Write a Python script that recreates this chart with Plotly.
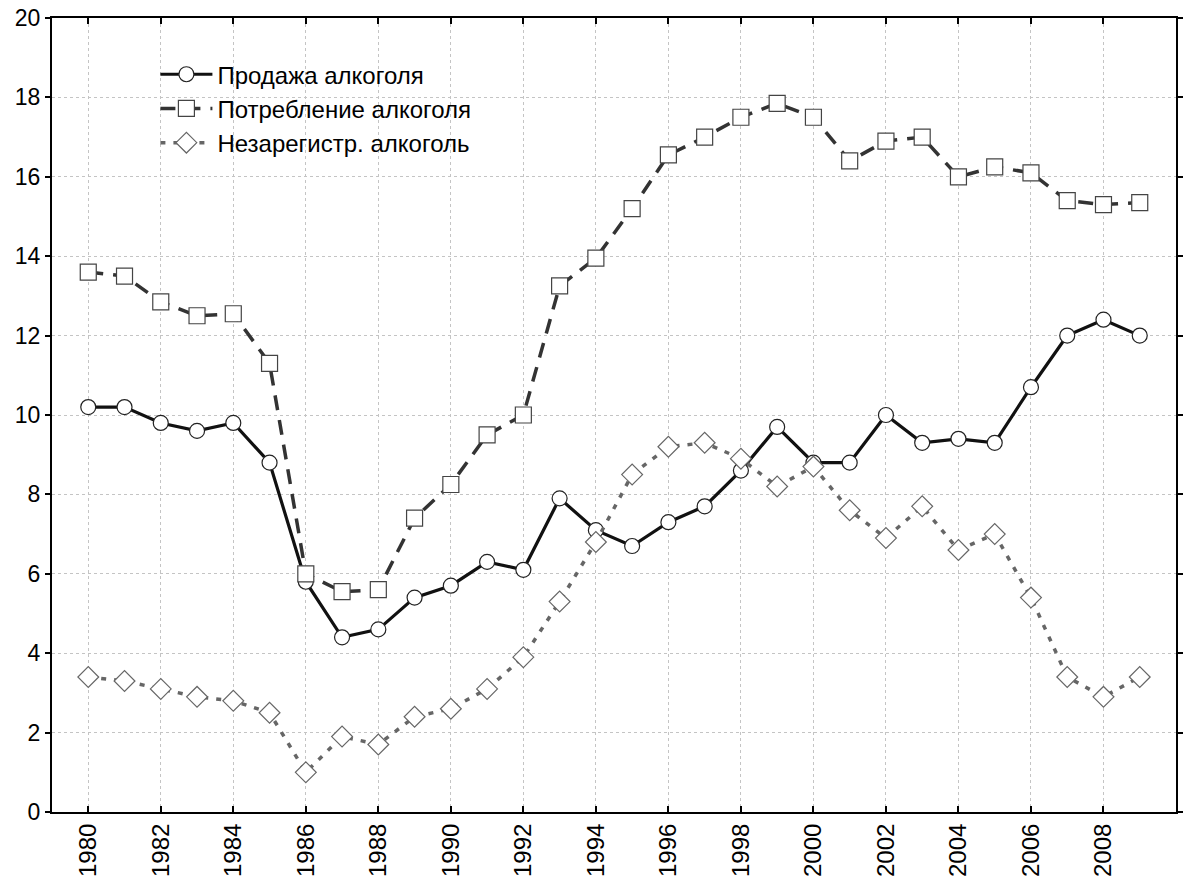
import plotly.graph_objects as go

years = list(range(1980, 2010))
sales = [10.2, 10.2, 9.8, 9.6, 9.8, 8.8, 5.8, 4.4, 4.6, 5.4, 5.7, 6.3, 6.1, 7.9, 7.1,
         6.7, 7.3, 7.7, 8.6, 9.7, 8.8, 8.8, 10.0, 9.3, 9.4, 9.3, 10.7, 12.0, 12.4, 12.0]
consumption = [13.6, 13.5, 12.85, 12.5, 12.55, 11.3, 6.0, 5.55, 5.6, 7.4, 8.25, 9.5, 10.0, 13.25, 13.95,
               15.2, 16.55, 17.0, 17.5, 17.85, 17.5, 16.4, 16.9, 17.0, 16.0, 16.25, 16.1, 15.4, 15.3, 15.35]
unregistered = [3.4, 3.3, 3.1, 2.9, 2.8, 2.5, 1.0, 1.9, 1.7, 2.4, 2.6, 3.1, 3.9, 5.3, 6.8,
                8.5, 9.2, 9.3, 8.9, 8.2, 8.7, 7.6, 6.9, 7.7, 6.6, 7.0, 5.4, 3.4, 2.9, 3.4]
names = ["Продажа алкоголя", "Потребление алкоголя", "Незарегистр. алкоголь"]
x_ticks = list(range(1980, 2009, 2))
y_ticks = list(range(0, 21, 2))

fig = go.Figure()
fig.add_trace(go.Scatter(
    x=years, y=sales, name=names[0], mode="lines+markers",
    line=dict(color="#111111", width=3.2),
    marker=dict(symbol="circle", size=15, color="white", line=dict(color="#222222", width=1.2)),
))
fig.add_trace(go.Scatter(
    x=years, y=consumption, name=names[1], mode="lines+markers",
    line=dict(color="#333333", width=3.5, dash="15px,10px"),
    marker=dict(symbol="square", size=16, color="white", line=dict(color="#444444", width=1.2)),
))
fig.add_trace(go.Scatter(
    x=years, y=unregistered, name=names[2], mode="lines+markers",
    line=dict(color="#666666", width=3.5, dash="5px,8px"),
    marker=dict(symbol="diamond", size=16, color="white", line=dict(color="#666666", width=1.2)),
))

fig.update_layout(
    width=1184, height=881,
    margin=dict(l=52, r=1, t=18, b=69),
    paper_bgcolor="white", plot_bgcolor="white",
    font=dict(family="Liberation Sans, Arial, sans-serif", size=22, color="black"),
    showlegend=True,
    legend=dict(x=0.092, y=0.957, xanchor="left", yanchor="top",
                bgcolor="rgba(0,0,0,0)", font=dict(size=24), itemwidth=52),
    xaxis=dict(range=[1979, 2010], tickvals=x_ticks, ticktext=[str(v) for v in x_ticks],
               tickangle=-90, tickfont=dict(size=24),
               showgrid=True, gridcolor="#c4c4c4", griddash="dot", gridwidth=1,
               showline=True, linecolor="black", linewidth=2, mirror="allticks",
               ticks="inside", ticklen=6, tickwidth=2, tickcolor="black", zeroline=False),
    yaxis=dict(range=[0, 20], tickvals=y_ticks, tickfont=dict(size=23),
               showgrid=True, gridcolor="#c4c4c4", griddash="dot",
               gridwidth=1, showline=True, linecolor="black", linewidth=2, mirror="allticks",
               ticks="outside", ticklen=5, tickwidth=2, tickcolor="black", zeroline=False),
)

fig.write_html("out.html", config={"displayModeBar": False},
               post_script="document.body.style.margin='0';document.body.style.overflow='hidden';")
